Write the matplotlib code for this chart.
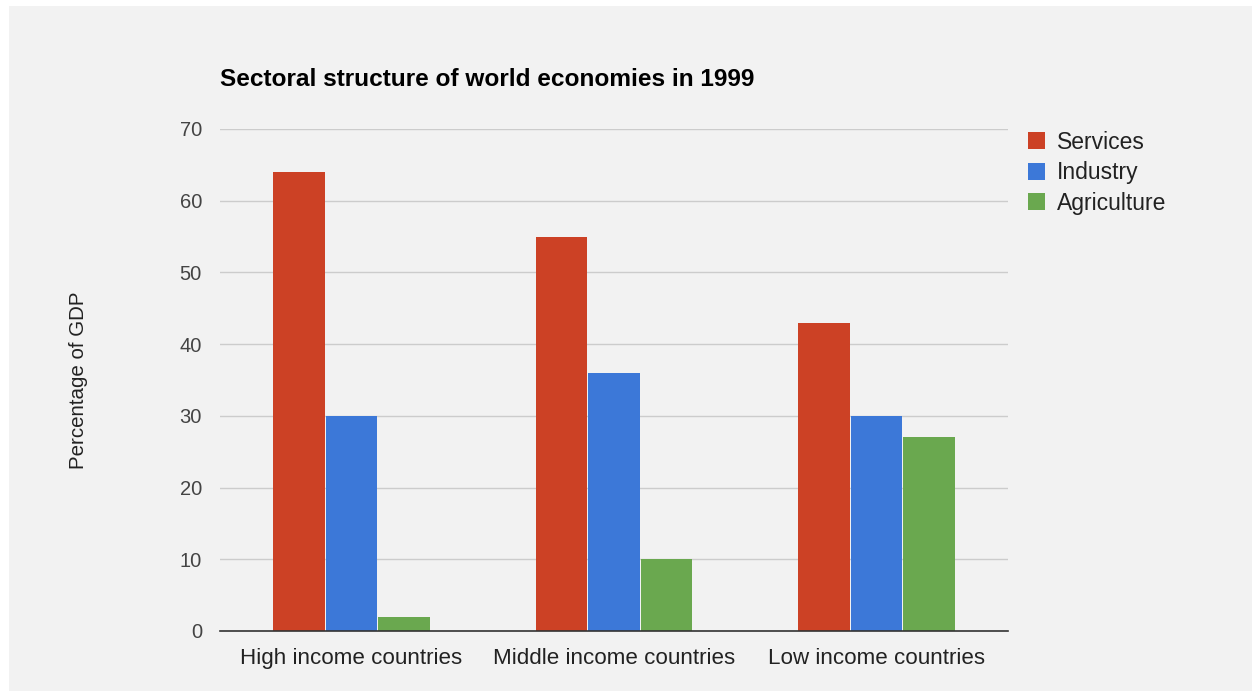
import numpy as np
import matplotlib
matplotlib.use("Agg")
import matplotlib.pyplot as plt
from matplotlib.patches import Rectangle

categories = ["High income countries", "Middle income countries", "Low income countries"]
services = [64, 55, 43]
industry = [30, 36, 30]
agriculture = [2, 10, 27]
series_names = ["Services", "Industry", "Agriculture"]
colors = ["#cc4125", "#3c78d8", "#6aa84f"]

plt.rcParams['font.family'] = ['Liberation Sans', 'DejaVu Sans']

fig = plt.figure(figsize=(12.52, 6.91), dpi=100, facecolor="white")
bg = "#f2f2f2"
# grey panel with thin white border at top/left
fig.patches.append(Rectangle((9 / 1252, 0), 1 - 9 / 1252, 1 - 6 / 691,
                             transform=fig.transFigure, facecolor=bg,
                             edgecolor="none", zorder=-10))

ax = fig.add_axes([220 / 1252, 1 - 631 / 691, 788 / 1252, 502 / 691])
ax.set_facecolor(bg)

x = np.arange(len(categories))
w = 0.196
offs = [-0.2, 0.0, 0.2]
for vals, name, c, o in zip([services, industry, agriculture], series_names, colors, offs):
    ax.bar(x + o, vals, width=w, color=c, label=name, zorder=3)

ax.set_xlim(-0.5, 2.5)
ax.set_ylim(0, 70)
ax.set_yticks(range(0, 71, 10))
ax.set_xticks(x)
ax.set_xticklabels(categories, fontsize=16.1, color="#222222")
ax.tick_params(axis="y", labelsize=14.5, labelcolor="#444444", length=0, pad=13)
ax.tick_params(axis="x", length=0, pad=12)
ax.grid(axis="y", color="#cccccc", linewidth=1, zorder=0)
for s in ["top", "right", "left"]:
    ax.spines[s].set_visible(False)
ax.spines["bottom"].set_color("#333333")
ax.spines["bottom"].set_linewidth(1.2)
ax.spines["bottom"].set_zorder(4)

ax.set_ylabel("Percentage of GDP", fontsize=14.8, color="#222222", labelpad=66)
fig.text(220 / 1252, 1 - 80 / 691, "Sectoral structure of world economies in 1999",
         fontsize=17.6, fontweight="bold", color="#000000", va="center", ha="left")

leg = ax.legend(loc="upper left", bbox_to_anchor=(1.014, 1.015), frameon=False,
                fontsize=16.5, handlelength=0.75, handleheight=0.75,
                handletextpad=0.5, labelspacing=0.33, borderaxespad=0)
for t in leg.get_texts():
    t.set_color("#222222")

fig.savefig("out.png", dpi=100, facecolor=fig.get_facecolor())
